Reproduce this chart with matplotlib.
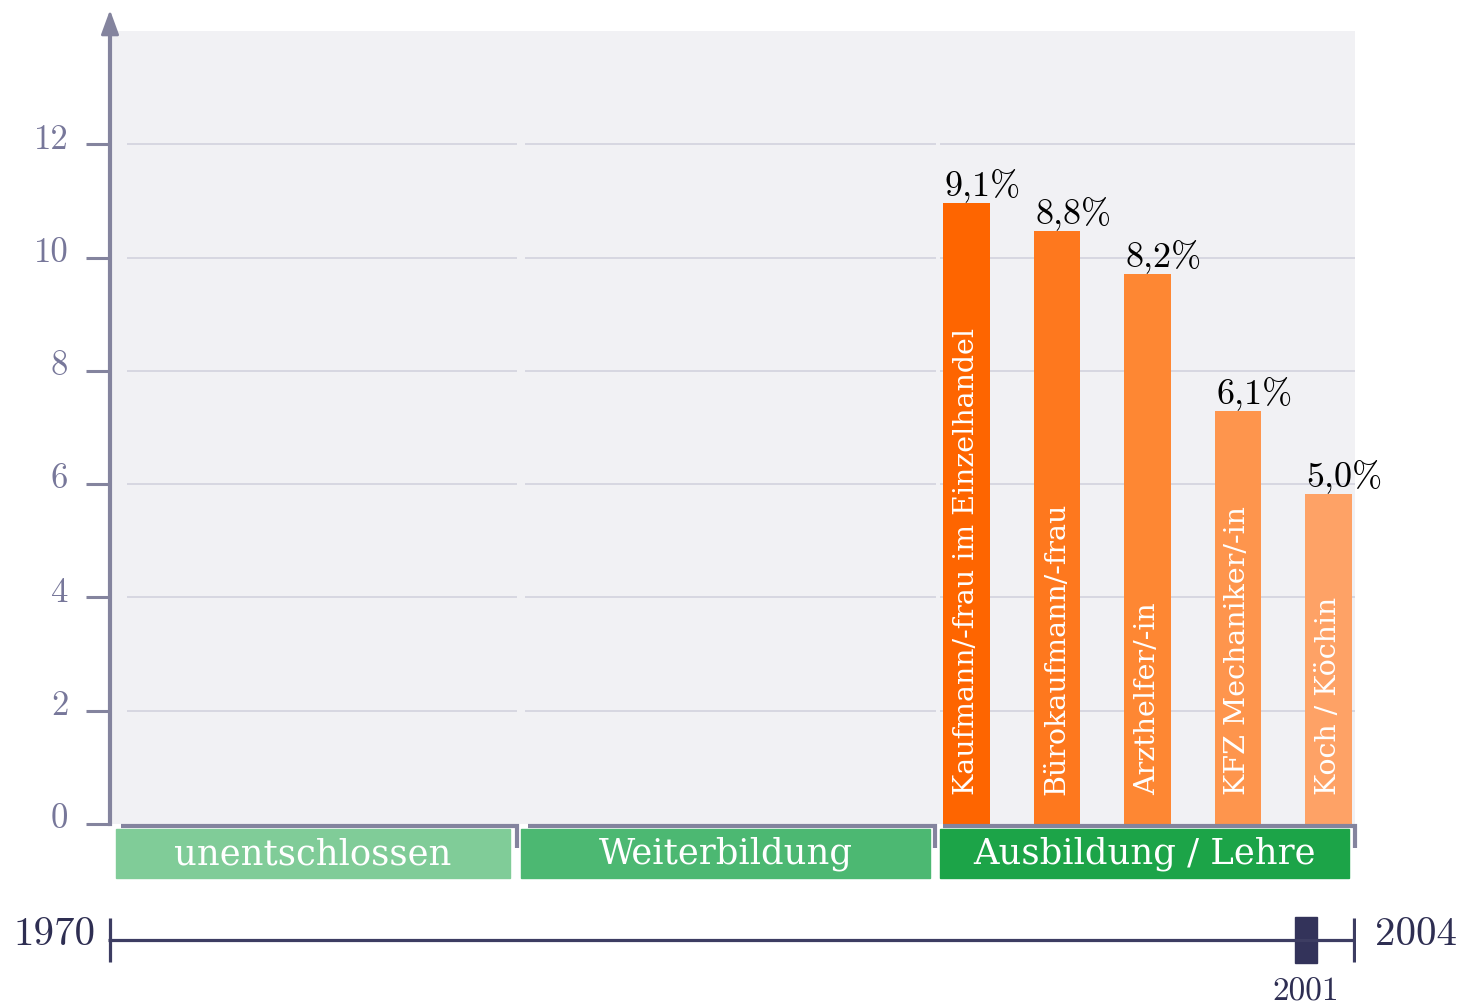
import matplotlib
matplotlib.use("Agg")
import matplotlib.pyplot as plt
from matplotlib.patches import Rectangle
from matplotlib.transforms import ScaledTranslation

# data
groups = ["unentschlossen", "Weiterbildung", "Ausbildung / Lehre"]
group_colors = ["#80cc98", "#4cb872", "#1ca448"]
jobs = ["Kaufmann/-frau im Einzelhandel", "Bürokaufmann/-frau", "Arzthelfer/-in",
        "KFZ Mechaniker/-in", "Koch / Köchin"]
bar_heights = [10.96, 10.47, 9.71, 7.29, 5.83]
bar_labels = ["9,1%", "8,8%", "8,2%", "6,1%", "5,0%"]
bar_colors = ["#fe6500", "#fe781e", "#fe8733", "#fe954d", "#fea266"]
yticks = [0, 2, 4, 6, 8, 10, 12]
years = ["1970", "2004"]
marker_year = "2001"

W, H = 1459, 1005
NUM = "cmr10"
TXT = "DejaVu Serif"
AXC = "#84849e"


def px(x0, y0, x1, y1):
    return [x0 / W, 1 - y1 / H, (x1 - x0) / W, (y1 - y0) / H]


fig = plt.figure(figsize=(W / 100, H / 100), dpi=100)
ax = fig.add_axes(px(110, 31, 1355, 824))
ax.set_xlim(0, 3)
ax.set_ylim(0, 14)
ax.set_facecolor("#f1f1f4")
for s in ["top", "right", "bottom"]:
    ax.spines[s].set_visible(False)
ax.spines["left"].set_color(AXC)
ax.spines["left"].set_linewidth(3)
ax.set_xticks([])
ax.set_yticks(yticks)
ax.set_yticklabels([str(v) for v in yticks], fontfamily=NUM, fontsize=25, color="#77779a")
ax.tick_params(axis="y", direction="out", length=17, width=2.2, color=AXC, pad=13)
for lab in ax.get_yticklabels():
    lab.set_transform(lab.get_transform() + ScaledTranslation(0, 8 / 100, fig.dpi_scale_trans))

# arrow head on y axis
ax.annotate("", xy=(0, 14.37), xytext=(0, 13.9), xycoords=("axes fraction", "data"),
            textcoords=("axes fraction", "data"), annotation_clip=False,
            arrowprops=dict(arrowstyle="-|>,head_length=15,head_width=5.5", mutation_scale=1,
                            color=AXC, lw=2, shrinkA=0, shrinkB=0))

# grid segments per group
seg = [(0.04, 0.98), (1.0, 1.99), (2.0, 3.0)]
for a, b in seg:
    ax.hlines(yticks[1:], a, b, color="#d2d2de", lw=1.2, zorder=1)

# group brackets and boxes
brk = [(0.027, 0.98), (1.007, 1.988), (2.007, 3.0)]
box = [(0.015, 0.964), (0.99, 1.976), (2.0, 2.986)]
for i, name in enumerate(groups):
    a, b = brk[i]
    ax.plot([a, b, b], [-0.03, -0.03, -0.42], color=AXC, lw=3, clip_on=False,
            solid_capstyle="butt", solid_joinstyle="miter", zorder=3)
    a, b = box[i]
    ax.add_patch(Rectangle((a, -0.953), b - a, 0.863, color=group_colors[i], clip_on=False, zorder=3))
    ax.text((a + b) / 2, -0.53, name, ha="center", va="center", color="white",
            fontfamily=TXT, fontsize=25.5, zorder=4)

# bars
xpos = [2.064 + 0.218 * k for k in range(len(jobs))]
bw = 0.113
ax.bar(xpos, bar_heights, width=bw, color=bar_colors, zorder=2)
for x, h, lab, job in zip(xpos, bar_heights, bar_labels, jobs):
    ax.text(x - bw / 2 + 0.004, h + 0.14, lab, ha="left", va="baseline",
            fontfamily=NUM, fontsize=26, color="black", zorder=4)
    ax.text(x, 0.51, job, rotation=90, ha="center", va="bottom", color="white",
            fontfamily=TXT, fontsize=20.5, zorder=4)

# timeline
tl = fig.add_axes(px(108, 910, 1356, 970))
tl.set_xlim(0, 1)
tl.set_ylim(0, 1)
tl.axis("off")
TLC = "#3d3d62"
tl.plot([0, 1], [0.5, 0.5], color=TLC, lw=2.3, solid_capstyle="butt")
tl.vlines([0.0015, 0.9985], 0.133, 0.867, color=TLC, lw=2.3)
marker_frac = 0.96
tl.add_patch(Rectangle((marker_frac - 0.0085, 0.12), 0.017, 0.76, color="#33335a"))
tl.text(-0.0104, 0.583, years[0], ha="right", va="center", fontfamily=NUM, fontsize=29.5, color="#2e2e52")
tl.text(1.015, 0.583, years[1], ha="left", va="center", fontfamily=NUM, fontsize=29.5, color="#2e2e52")
tl.text(marker_frac, -0.37, marker_year, ha="center", va="center", fontfamily=NUM, fontsize=24,
        color="#2e2e52", clip_on=False)

fig.savefig("out.png", dpi=100)
